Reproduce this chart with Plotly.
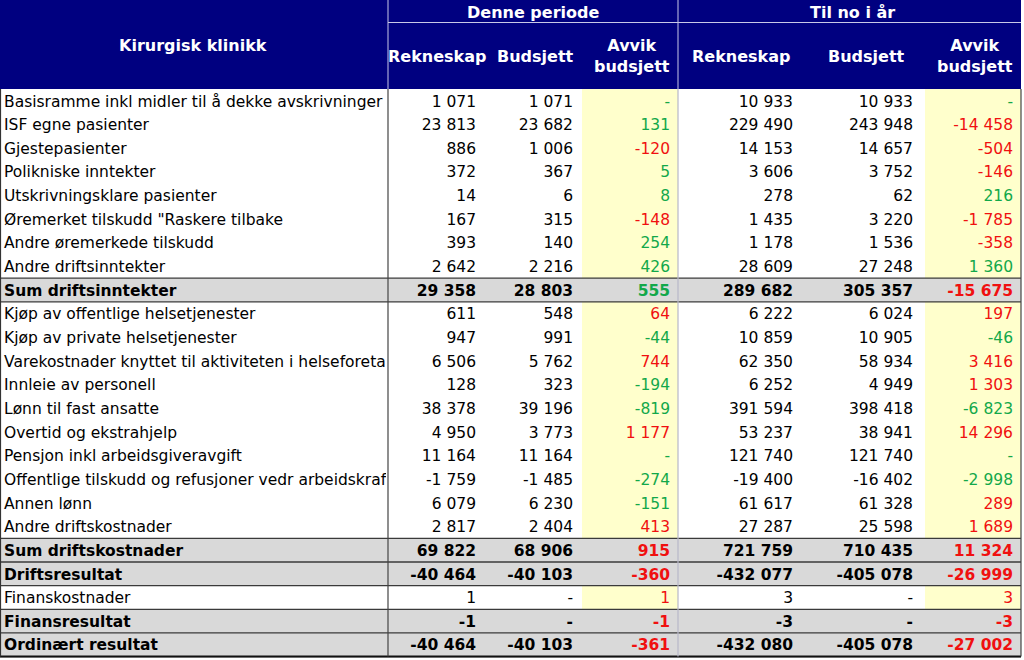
import plotly.graph_objects as go

# ---------------- DATA ----------------
title = "Kirurgisk klinikk"
group_headers = ["Denne periode", "Til no i år"]
col_headers = ["Rekneskap", "Budsjett", "Avvik<br>budsjett", "Rekneskap", "Budsjett", "Avvik<br>budsjett"]

labels = [
    "Basisramme inkl midler til å dekke avskrivninger",
    "ISF egne pasienter",
    "Gjestepasienter",
    "Polikniske inntekter",
    "Utskrivningsklare pasienter",
    "Øremerket tilskudd \"Raskere tilbake",
    "Andre øremerkede tilskudd",
    "Andre driftsinntekter",
    "Sum driftsinntekter",
    "Kjøp av offentlige helsetjenester",
    "Kjøp av private helsetjenester",
    "Varekostnader knyttet til aktiviteten i helseforetak",
    "Innleie av personell",
    "Lønn til fast ansatte",
    "Overtid og ekstrahjelp",
    "Pensjon inkl arbeidsgiveravgift",
    "Offentlige tilskudd og refusjoner vedr arbeidskraft",
    "Annen lønn",
    "Andre driftskostnader",
    "Sum driftskostnader",
    "Driftsresultat",
    "Finanskostnader",
    "Finansresultat",
    "Ordinært resultat",
]
# row kind: "inc" income, "cost" cost, "res" result
row_kind = ["inc"] * 9 + ["cost"] * 11 + ["res", "cost", "res", "res"]
row_total = [False] * 8 + [True] + [False] * 10 + [True, True, False, True, True]

period_rekneskap = [1071, 23813, 886, 372, 14, 167, 393, 2642, 29358,
                    611, 947, 6506, 128, 38378, 4950, 11164, -1759, 6079, 2817,
                    69822, -40464, 1, -1, -40464]
period_budsjett = [1071, 23682, 1006, 367, 6, 315, 140, 2216, 28803,
                   548, 991, 5762, 323, 39196, 3773, 11164, -1485, 6230, 2404,
                   68906, -40103, 0, 0, -40103]
period_avvik = [0, 131, -120, 5, 8, -148, 254, 426, 555,
                64, -44, 744, -194, -819, 1177, 0, -274, -151, 413,
                915, -360, 1, -1, -361]
ytd_rekneskap = [10933, 229490, 14153, 3606, 278, 1435, 1178, 28609, 289682,
                 6222, 10859, 62350, 6252, 391594, 53237, 121740, -19400, 61617, 27287,
                 721759, -432077, 3, -3, -432080]
ytd_budsjett = [10933, 243948, 14657, 3752, 62, 3220, 1536, 27248, 305357,
                6024, 10905, 58934, 4949, 398418, 38941, 121740, -16402, 61328, 25598,
                710435, -405078, 0, 0, -405078]
ytd_avvik = [0, -14458, -504, -146, 216, -1785, -358, 1360, -15675,
             197, -46, 3416, 1303, -6823, 14296, 0, -2998, 289, 1689,
             11324, -26999, 3, -3, -27002]

# ---------------- STYLE / LAYOUT ----------------
W, H = 1024, 660
NAVY = "#000080"
GRAY = "#d9d9d9"
YELLOW = "#ffffcc"
GREEN = "#12a84a"
RED = "#f01010"
FONT = "Tahoma, DejaVu Sans, sans-serif"
FS = 15.5

HEAD_H = 89
ROW_H = 23.65
LABEL_W = 388
RIGHT = 1021
GROUP_SPLIT = 678
YEL1 = (582, GROUP_SPLIT)
YEL2 = (925, RIGHT)
num_right = [476, 573, 670, 793, 913, 1013]
head_center = [437, 535, 632, 741, 866, 975]

n = len(labels)
row_top = [HEAD_H + i * ROW_H for i in range(n)]
row_mid = [t + ROW_H / 2 + 1.8 for t in row_top]


def fmt(v):
    if v == 0:
        return "-"
    s = f"{abs(v):,}".replace(",", " ")
    return ("-" if v < 0 else "") + s


def avvik_color(v, kind):
    if v == 0:
        return GREEN
    if kind == "cost":
        return RED if v > 0 else GREEN
    return GREEN if v > 0 else RED


fig = go.Figure()
shapes = []

# header background
shapes.append(dict(type="rect", x0=0, x1=RIGHT, y0=0, y1=HEAD_H, fillcolor=NAVY, line_width=0, layer="below"))
# yellow avvik columns
for (a, b) in (YEL1, YEL2):
    shapes.append(dict(type="rect", x0=a, x1=b, y0=HEAD_H, y1=row_top[-1] + ROW_H, fillcolor=YELLOW,
                       line_width=0, layer="below"))
# gray total rows
for i in range(n):
    if row_total[i]:
        shapes.append(dict(type="rect", x0=0, x1=RIGHT, y0=row_top[i], y1=row_top[i] + ROW_H,
                           fillcolor=GRAY, line_width=0, layer="below"))
# horizontal borders around totals and bottom part
hlines = set()
for i in range(n):
    if row_total[i] or i >= 19:
        hlines.add(round(row_top[i], 2))
        hlines.add(round(row_top[i] + ROW_H, 2))
for yv in sorted(hlines):
    shapes.append(dict(type="line", x0=0, x1=RIGHT, y0=yv, y1=yv, line=dict(color="#3a3a3a", width=1.3)))
bottom = row_top[-1] + ROW_H
shapes.append(dict(type="line", x0=0, x1=RIGHT, y0=bottom, y1=bottom, line=dict(color="#111", width=2)))
# vertical borders data area
for xv, col in ((0.5, "#333"), (LABEL_W, "#444"), (GROUP_SPLIT, "#b8b8c8"), (RIGHT, "#444")):
    shapes.append(dict(type="line", x0=xv, x1=xv, y0=HEAD_H, y1=bottom, line=dict(color=col, width=1.2)))
# header internal lines
shapes.append(dict(type="line", x0=LABEL_W, x1=RIGHT, y0=22.5, y1=22.5, line=dict(color="#c8c8e8", width=1)))
for xv in (LABEL_W, GROUP_SPLIT):
    shapes.append(dict(type="line", x0=xv, x1=xv, y0=0, y1=HEAD_H, line=dict(color="#c8c8e8", width=1)))

# header text
ann = []
ann.append(dict(x=193, y=45, text=f"<b>{title}</b>", showarrow=False, xref="x", yref="y",
                font=dict(family=FONT, size=16, color="white")))
for txt, cx in zip(group_headers, (533, 852)):
    ann.append(dict(x=cx, y=12, text=f"<b>{txt}</b>", showarrow=False, xref="x", yref="y",
                    font=dict(family=FONT, size=16, color="white")))
for txt, cx in zip(col_headers, head_center):
    ann.append(dict(x=cx, y=56, text=f"<b>{txt}</b>", showarrow=False, xref="x", yref="y",
                    font=dict(family=FONT, size=16, color="white")))

# labels (clipped subplot)
fig.add_trace(go.Scatter(
    x=[4] * n, y=row_mid, mode="text", xaxis="x2", yaxis="y2",
    text=[f"<b>{l}</b>" if t else l for l, t in zip(labels, row_total)],
    textposition="middle right", cliponaxis=True, hoverinfo="skip",
    textfont=dict(family=FONT, size=FS, color="black"), showlegend=False))

columns = [period_rekneskap, period_budsjett, period_avvik, ytd_rekneskap, ytd_budsjett, ytd_avvik]
for ci, vals in enumerate(columns):
    is_avvik = ci in (2, 5)
    colors = [avvik_color(v, k) if is_avvik else "black" for v, k in zip(vals, row_kind)]
    texts = [f"<b>{fmt(v)}</b>" if t else fmt(v) for v, t in zip(vals, row_total)]
    fig.add_trace(go.Scatter(
        x=[num_right[ci]] * n, y=row_mid, mode="text", text=texts,
        textposition="middle left", cliponaxis=False, hoverinfo="skip",
        textfont=dict(family=FONT, size=FS, color=colors), showlegend=False))

fig.update_layout(
    width=W, height=H, margin=dict(l=0, r=0, t=0, b=0),
    paper_bgcolor="white", plot_bgcolor="rgba(0,0,0,0)",
    xaxis=dict(range=[0, W], visible=False, domain=[0, 1]),
    yaxis=dict(range=[H, 0], visible=False, domain=[0, 1]),
    xaxis2=dict(range=[0, LABEL_W - 2], visible=False, domain=[0, (LABEL_W - 2) / W], anchor="y2"),
    yaxis2=dict(range=[H, 0], visible=False, domain=[0, 1], anchor="x2"),
    shapes=shapes, annotations=ann, showlegend=False,
)

fig.write_html("out.html", config={"displayModeBar": False, "staticPlot": True},
               post_script="document.body.style.margin='0px';document.body.style.overflow='hidden';")
